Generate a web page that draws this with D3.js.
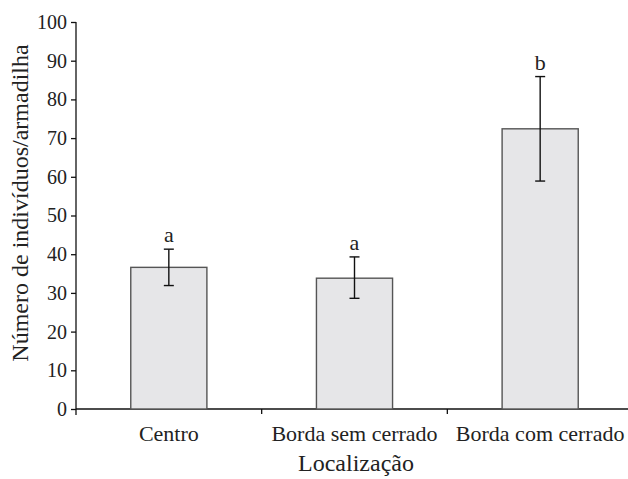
<!DOCTYPE html>
<html>
<head>
<meta charset="utf-8">
<script src="https://cdn.jsdelivr.net/npm/d3@7"></script>
<style>
  body { margin: 0; background: #fff; }
  #chart text { font-family: "Liberation Serif", "Times New Roman", Times, serif !important; }
</style>
</head>
<body>
<svg id="chart" width="628" height="479" font-family="Liberation Serif"></svg>
<script>
// data
const categories = ['Centro', 'Borda sem cerrado', 'Borda com cerrado'];
const means      = [36.6, 33.8, 72.4];
const errLow     = [31.9, 28.6, 58.9];
const errHigh    = [41.3, 39.3, 85.9];
const letters    = ['a', 'a', 'b'];
const yTicks     = [0, 10, 20, 30, 40, 50, 60, 70, 80, 90, 100];

const FONT = 'Liberation Serif';
const INK = '#222';
const svg = d3.select('#chart');
const mLeft = 76, mRight = 633, mTop = 22, mBottom = 409;

const x = d3.scaleBand().domain(categories).range([mLeft, mRight]).paddingInner(0.59).paddingOuter(0.295);
const y = d3.scaleLinear().domain([0, 100]).range([mBottom, mTop]);

// y axis
const yAxis = svg.append('g').attr('transform', `translate(${mLeft},0)`)
  .call(d3.axisLeft(y).tickValues(yTicks).tickSize(5).tickPadding(4));
yAxis.attr('font-family', FONT).attr('font-size', 20);
yAxis.select('.domain').attr('stroke', '#111').attr('stroke-width', 1.3).attr('d', `M0,${mTop}V${mBottom + 6}`);
yAxis.selectAll('.tick line').attr('stroke', '#111').attr('stroke-width', 1.3);
yAxis.selectAll('.tick text').attr('fill', INK).attr('font-family', FONT);

// x axis: baseline + ticks at category boundaries
svg.append('line').attr('x1', mLeft).attr('x2', mRight).attr('y1', mBottom).attr('y2', mBottom)
  .attr('stroke', '#111').attr('stroke-width', 1.3);
const step = x.step();
[1, 2].forEach(i => {
  const xb = x(categories[i]) - step * x.paddingInner() / 2;
  svg.append('line').attr('x1', xb).attr('x2', xb).attr('y1', mBottom).attr('y2', mBottom + 5)
    .attr('stroke', '#111').attr('stroke-width', 1.3);
});

// bars
svg.selectAll('.bar').data(categories).join('rect')
  .attr('class', 'bar')
  .attr('x', d => x(d))
  .attr('width', x.bandwidth())
  .attr('y', (d, i) => y(means[i]))
  .attr('height', (d, i) => y(0) - y(means[i]))
  .attr('fill', '#e6e6e8').attr('stroke', '#555').attr('stroke-width', 1.4);

// error bars
const cx = d => x(d) + x.bandwidth() / 2;
const eb = svg.selectAll('.err').data(categories).join('g').attr('class', 'err')
  .attr('stroke', '#111').attr('stroke-width', 1.4);
eb.append('line').attr('x1', cx).attr('x2', cx)
  .attr('y1', (d, i) => y(errLow[i])).attr('y2', (d, i) => y(errHigh[i]));
eb.append('line').attr('x1', d => cx(d) - 5).attr('x2', d => cx(d) + 5)
  .attr('y1', (d, i) => y(errHigh[i])).attr('y2', (d, i) => y(errHigh[i]));
eb.append('line').attr('x1', d => cx(d) - 5).attr('x2', d => cx(d) + 5)
  .attr('y1', (d, i) => y(errLow[i])).attr('y2', (d, i) => y(errLow[i]));

// significance letters
svg.selectAll('.lt').data(categories).join('text')
  .attr('x', cx).attr('y', (d, i) => y(errHigh[i]) - 7)
  .attr('text-anchor', 'middle').attr('font-family', FONT).attr('font-size', 22).attr('fill', INK)
  .text((d, i) => letters[i]);

// category labels
svg.selectAll('.cat').data(categories).join('text')
  .attr('x', cx).attr('y', 441)
  .attr('text-anchor', 'middle').attr('font-family', FONT).attr('font-size', 22).attr('fill', INK)
  .text(d => d);

// axis titles
svg.append('text').attr('x', 356).attr('y', 471)
  .attr('text-anchor', 'middle').attr('font-family', FONT).attr('font-size', 24).attr('fill', INK)
  .text('Localização');
svg.append('text').attr('transform', `translate(28,203) rotate(-90)`)
  .attr('text-anchor', 'middle').attr('font-family', FONT).attr('font-size', 24).attr('fill', INK)
  .text('Número de indivíduos/armadilha');
</script>
</body>
</html>
